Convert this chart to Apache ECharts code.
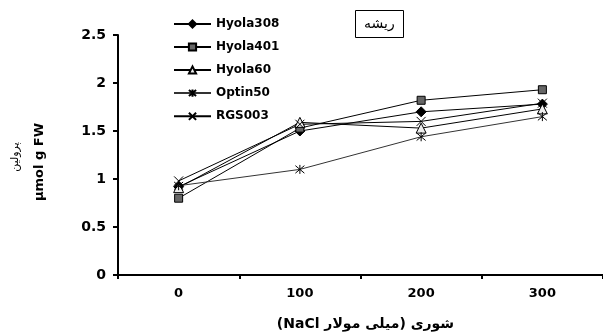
<!DOCTYPE html>
<html lang="fa">

<head>
  <meta charset="UTF-8">
  <title>پرولین ریشه</title>
  <style>
    html, body {
      margin: 0;
      background: #fff;
    }

    #chart {
      width: 603px;
      height: 335px;
    }
  </style>
</head>

<body>
  <div id="chart"></div>
</body>

<script src="https://cdn.jsdelivr.net/npm/echarts@6/dist/echarts.min.js"></script>
<script>
  var salinity = ['0', '100', '200', '300']
  var hyola308 = [0.92, 1.5, 1.7, 1.78]
  var hyola401 = [0.8, 1.53, 1.82, 1.93]
  var hyola60 = [0.91, 1.59, 1.53, 1.73]
  var optin50 = [0.93, 1.1, 1.44, 1.65]
  var rgs003 = [0.98, 1.57, 1.6, 1.79]

  var font = '"DejaVu Sans", sans-serif'
  var crossPath = 'path://M0,0L10,10M10,0L0,10'
  var starPath = 'path://M0,0L10,10M10,0L0,10M5,-1L5,11'
  // RLE ... PDF so the canvas lays the persian title out right to left
  var xTitle = '\u202Bشوری (میلی مولار NaCl)\u202C'

  function makeSeries(name, data, symbol, size, fill, lineColor) {
    return {
      name: name,
      type: 'line',
      data: data,
      symbol: symbol,
      symbolSize: size,
      showAllSymbol: true,
      lineStyle: { color: lineColor || '#000', width: 1 },
      itemStyle: {
        color: fill,
        borderColor: '#000',
        borderWidth: 1,
      },
      emphasis: { disabled: true },
      z: 3,
    }
  }

  var myChart = echarts.init(document.getElementById('chart'))
  var option = {
    animation: false,
    textStyle: { fontFamily: font },
    title: {
      text: 'ریشه',
      left: 355,
      top: 10,
      padding: [7, 9, 7, 9],
      borderColor: '#000',
      borderWidth: 1,
      textStyle: {
        fontFamily: font,
        fontSize: 14,
        fontWeight: 'normal',
        color: '#000',
      },
    },
    legend: {
      orient: 'vertical',
      left: 168,
      top: 13,
      itemGap: 11,
      itemWidth: 37,
      itemHeight: 9,
      textStyle: {
        fontFamily: font,
        fontSize: 12,
        fontWeight: 'bold',
        color: '#000',
      },
      data: ['Hyola308', 'Hyola401', 'Hyola60', 'Optin50', 'RGS003'],
    },
    grid: {
      left: 118,
      right: 0,
      top: 35,
      bottom: 60,
      outerBoundsMode: 'none',
    },
    graphic: [
      {
        type: 'text',
        x: 15,
        y: 157,
        rotation: Math.PI / 2,
        style: {
          text: 'پرولین',
          fontFamily: font,
          fontSize: 11,
          fill: '#000',
          align: 'center',
          verticalAlign: 'middle',
        },
      },
      {
        type: 'text',
        x: 40,
        y: 162,
        rotation: Math.PI / 2,
        style: {
          text: 'µmol g FW',
          fontFamily: font,
          fontSize: 13,
          fontWeight: 'bold',
          fill: '#000',
          align: 'center',
          verticalAlign: 'middle',
        },
      },
    ],
    xAxis: {
      type: 'category',
      data: salinity,
      boundaryGap: true,
      name: xTitle,
      nameLocation: 'middle',
      nameGap: 42,
      nameTextStyle: {
        fontFamily: font,
        fontSize: 14,
        fontWeight: 'bold',
        color: '#000',
        padding: [0, 0, 0, 10],
      },
      axisLine: { lineStyle: { color: '#000', width: 2 } },
      axisTick: { show: true, length: 4, lineStyle: { color: '#000', width: 2 } },
      axisLabel: {
        margin: 12,
        fontSize: 13,
        fontWeight: 'bold',
        color: '#000',
      },
      splitLine: { show: false },
    },
    yAxis: {
      type: 'value',
      min: 0,
      max: 2.5,
      interval: 0.5,
      axisLine: { show: true, lineStyle: { color: '#000', width: 2 } },
      axisTick: { show: true, length: 5, lineStyle: { color: '#000', width: 2 } },
      axisLabel: {
        margin: 12,
        fontSize: 14,
        fontWeight: 'bold',
        color: '#000',
      },
      splitLine: { show: false },
    },
    series: [
      makeSeries('Hyola308', hyola308, 'diamond', 10, '#000'),
      makeSeries('Hyola401', hyola401, 'rect', 8, '#666'),
      makeSeries('Hyola60', hyola60, 'triangle', 10, '#eee'),
      makeSeries('Optin50', optin50, starPath, 9, 'none', '#333'),
      makeSeries('RGS003', rgs003, crossPath, 9, 'none'),
    ],
  }
  myChart.setOption(option)
</script>

</html>
